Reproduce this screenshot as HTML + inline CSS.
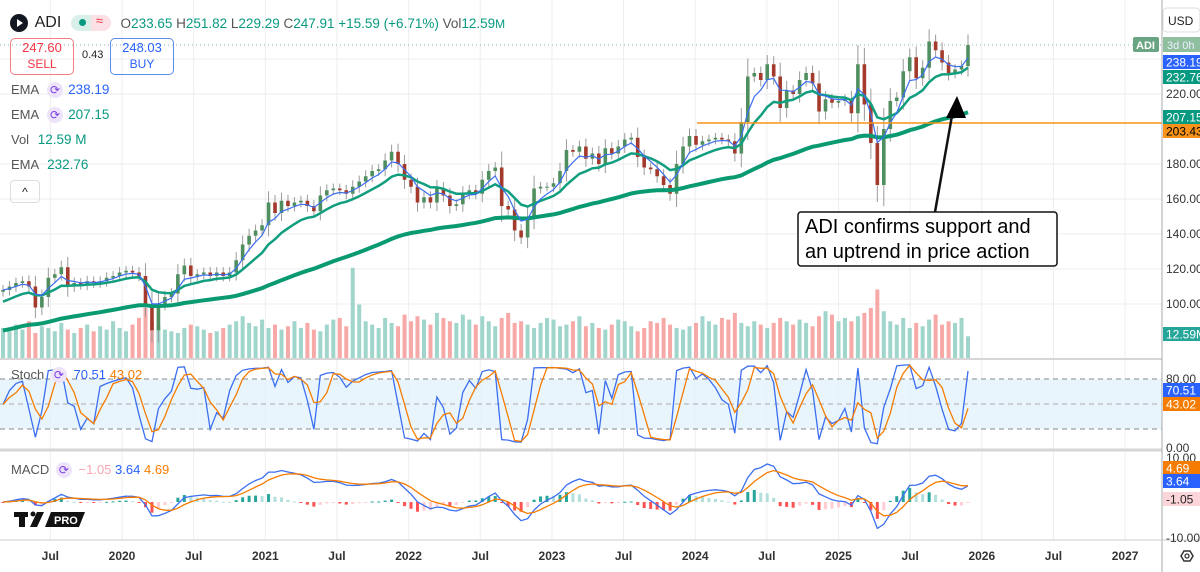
<!DOCTYPE html>
<html><head><meta charset="utf-8">
<style>
html,body{margin:0;padding:0;background:#fff;}
body{width:1200px;height:572px;overflow:hidden;position:relative;font-family:"Liberation Sans",sans-serif;}
svg{position:absolute;left:0;top:0;}
.lg{position:absolute;font-size:13px;color:#555;white-space:nowrap;}
</style></head>
<body>
<svg id="chart" width="1200" height="572" viewBox="0 0 1200 572" xmlns="http://www.w3.org/2000/svg" font-family="Liberation Sans, sans-serif">
  <g id="grid"></g>
  <rect x="0" y="379" width="1162" height="50" fill="#e3f2fd" opacity="0.8"/>
  <line x1="0" y1="379" x2="1162" y2="379" stroke="#888" stroke-dasharray="5,4"/>
  <line x1="0" y1="404" x2="1162" y2="404" stroke="#aaa" stroke-dasharray="5,4"/>
  <line x1="0" y1="429" x2="1162" y2="429" stroke="#888" stroke-dasharray="5,4"/>
  <line x1="0" y1="45" x2="1162" y2="45" stroke="#7fb8ac" stroke-dasharray="1,3"/>
  <g id="vol"></g>
  <g id="candles"></g>
  <g id="emas"></g>
  <line x1="697" y1="123" x2="1162" y2="123" stroke="#f7931a" stroke-width="1.5"/>
  <g id="stoch"></g>
  <g id="macd"></g>
  <line x1="0" y1="450" x2="1162" y2="450" stroke="#d6d6d6" stroke-width="3"/>
  <line x1="0" y1="359" x2="1162" y2="359" stroke="#d6d6d6" stroke-width="2"/>
  <line x1="0" y1="540" x2="1200" y2="540" stroke="#ccc"/>
  <line x1="1162" y1="0" x2="1162" y2="572" stroke="#aaa"/>
  <g id="timeaxis" font-size="12" fill="#333" font-weight="bold"></g>
  <g id="priceaxis" font-size="12" fill="#333"></g>
  <!-- annotation -->
  <line x1="935" y1="212" x2="953" y2="110" stroke="#111" stroke-width="2.5"/>
  <polygon points="957,96 946,118 966,118" fill="#000"/>
  <rect x="798" y="212" width="259" height="54" rx="3" fill="#fff" stroke="#111" stroke-width="1.5"/>
  <text x="805" y="233" font-size="20" fill="#000">ADI confirms support and</text>
  <text x="805" y="258" font-size="20" fill="#000">an uptrend in price action</text>
  <!-- right labels -->
  <rect x="1163" y="8" width="37" height="24" rx="4" fill="#fff" stroke="#ddd"/>
  <text x="1168" y="25" font-size="12" fill="#222">USD</text>
  <rect x="1133" y="37" width="26" height="15" rx="2" fill="#6aa583"/>
  <text x="1136" y="49" font-size="11" fill="#fff" font-weight="bold">ADI</text>
  <rect x="1163" y="37" width="37" height="15" fill="#8fbf9f"/>
  <text x="1167" y="49" font-size="11" fill="#eef">3d 0h</text>
  <g id="tags" font-size="12"></g>
  <!-- TV logo -->
  <g>
    <rect x="14" y="512" width="14" height="5" fill="#111"/>
    <rect x="19" y="512" width="6" height="15" fill="#111"/>
    <circle cx="33" cy="514" r="2.5" fill="#111"/>
    <polygon points="37,512 44,512 37,527 30,527" fill="#111"/>
    <polygon points="51,512 85,512 79,527 45,527" fill="#111"/>
    <text x="54" y="524" font-size="11" font-weight="bold" fill="#fff">PRO</text>
  </g>
  <g>
    <polygon points="1181,556 1184,551 1190,551 1193,556 1190,561 1184,561" fill="none" stroke="#333" stroke-width="1.5"/>
    <circle cx="1187" cy="556" r="2" fill="none" stroke="#333" stroke-width="1.3"/>
  </g>
</svg>

<!-- Legend -->
<div class="lg" style="left:10px;top:14px;">
  <span style="display:inline-block;width:18px;height:18px;border-radius:9px;background:#131722;vertical-align:middle;position:relative;"><span style="position:absolute;left:7px;top:5px;border-left:6px solid #fff;border-top:4px solid transparent;border-bottom:4px solid transparent;"></span></span>
  <span style="font-size:16px;color:#222;vertical-align:middle;margin-left:3px;">ADI</span>
  <span style="display:inline-block;width:40px;height:16px;border-radius:8px;background:linear-gradient(90deg,#d9f0ea 50%,#fbe0e6 50%);vertical-align:middle;margin-left:6px;position:relative;"><span style="position:absolute;left:8px;top:4px;width:7px;height:7px;border-radius:4px;background:#089981;"></span><span style="position:absolute;left:25px;top:-2px;color:#f23645;font-size:13px;">≈</span></span>
  <span style="color:#089981;font-size:13.5px;vertical-align:middle;margin-left:6px;"><span style="color:#555">O</span>233.65 <span style="color:#555">H</span>251.82 <span style="color:#555">L</span>229.29 <span style="color:#555">C</span>247.91 +15.59 (+6.71%) <span style="color:#555">Vol</span>12.59<span style="font-size:12px">M</span></span>
</div>
<div style="position:absolute;left:10px;top:38px;width:62px;height:34px;border:1px solid #f77c80;border-radius:5px;text-align:center;font-size:13px;color:#f23645;line-height:16px;padding-top:1px;">247.60<br><span style="font-size:12px">SELL</span></div>
<div class="lg" style="left:82px;top:49px;font-size:11px;color:#222;">0.43</div>
<div style="position:absolute;left:110px;top:38px;width:62px;height:34px;border:1px solid #5b8def;border-radius:5px;text-align:center;font-size:13px;color:#2962ff;line-height:16px;padding-top:1px;">248.03<br><span style="font-size:12px">BUY</span></div>
<div class="lg" style="left:11px;top:82px;">EMA <span style="display:inline-block;width:16px;height:16px;border-radius:8px;background:#ede4fb;color:#7b3fe4;text-align:center;font-size:12px;line-height:16px;margin:0 5px;">⟳</span><span style="color:#2962ff;font-size:13.5px">238.19</span></div>
<div class="lg" style="left:11px;top:107px;">EMA <span style="display:inline-block;width:16px;height:16px;border-radius:8px;background:#ede4fb;color:#7b3fe4;text-align:center;font-size:12px;line-height:16px;margin:0 5px;">⟳</span><span style="color:#089981;font-size:13.5px">207.15</span></div>
<div class="lg" style="left:11px;top:132px;">Vol <span style="color:#089981;font-size:13.5px;margin-left:5px;">12.59 M</span></div>
<div class="lg" style="left:11px;top:157px;">EMA <span style="color:#089981;font-size:13.5px;margin-left:5px;">232.76</span></div>
<div style="position:absolute;left:10px;top:180px;width:28px;height:21px;border:1px solid #ddd;border-radius:4px;text-align:center;font-size:12px;line-height:22px;color:#222;">^</div>
<div class="lg" style="left:11px;top:367px;">Stoch <span style="display:inline-block;width:16px;height:16px;border-radius:8px;background:#ede4fb;color:#7b3fe4;text-align:center;font-size:12px;line-height:16px;margin:0 3px;">⟳</span> <span style="color:#2962ff">70.51</span> <span style="color:#f57c00">43.02</span></div>
<div class="lg" style="left:11px;top:462px;">MACD <span style="display:inline-block;width:16px;height:16px;border-radius:8px;background:#ede4fb;color:#7b3fe4;text-align:center;font-size:12px;line-height:16px;margin:0 3px;">⟳</span> <span style="color:#f7a8b3">−1.05</span> <span style="color:#2962ff">3.64</span> <span style="color:#f57c00">4.69</span></div>

<script>
const closes = [108,110,112,113,110,98,104,115,117,121,
110,112,111,113,112,113,115,116,118,119,
118,116,100,85,100,104,106,117,122,116,
117,118,116,118,116,118,125,134,139,142,
145,158,152,159,156,158,159,156,153,162,
165,166,165,163,167,170,173,176,177,182,
187,180,171,167,158,161,158,166,162,156,
157,163,165,163,171,176,178,156,154,142,
138,150,166,167,167,169,176,188,187,190,
183,186,180,189,186,190,194,195,184,178,
177,173,168,163,180,190,196,191,193,194,
195,194,193,186,204,230,232,228,237,230,
212,222,220,228,232,226,210,217,215,216,
217,209,237,214,192,168,200,216,218,233,
241,229,235,250,245,238,232,234,236,248];
const volumes = [18,16,20,17,22,15,19,18,16,21,
17,15,18,20,16,19,17,22,18,16,
20,24,30,22,19,17,16,15,18,20,
19,17,15,16,18,20,22,25,21,19,
23,18,20,17,19,22,18,21,17,16,
20,23,24,19,54,32,22,20,18,24,
21,19,26,22,25,23,20,27,24,22,
21,26,23,20,25,22,19,24,27,21,
22,20,18,21,24,23,19,20,22,25,
19,21,18,17,20,23,22,19,16,18,
22,21,24,20,18,17,19,21,25,22,
20,24,23,27,21,19,22,20,18,21,
24,22,20,23,21,19,25,28,26,22,
24,22,25,27,30,41,28,22,20,24,
18,21,19,23,26,20,22,21,24,13];
const priceTicks = [100,120,140,160,180,220,240];
const priceTickLabels = ["100.00","120.00","140.00","160.00","180.00","220.00",""];
const timeTicks = [0.5,1,1.5,2,2.5,3,3.5,4,4.5,5,5.5,6,6.5,7,7.5,8];
const timeTickLabels = ["Jul","2020","Jul","2021","Jul","2022","Jul","2023","Jul","2024","Jul","2025","Jul","2026","Jul","2027"];

const NS="http://www.w3.org/2000/svg";
function mk(tag,attrs,parent){const e=document.createElementNS(NS,tag);for(const k in attrs)e.setAttribute(k,attrs[k]);parent.appendChild(e);return e;}
const N=closes.length;
function xAt(i){return 3+i*(965/(N-1));}
function yP(p){return 269-(p-120)*1.75;}
function xT(yearsFrom2019){return 122+(yearsFrom2019-1)*143.3;}
function yV(v){return 358-v*1.67;}
function yS(s){return 446-s*0.833;}

const grid=document.getElementById('grid');
priceTicks.forEach(p=>{const l=mk('line',{x1:0,x2:1162,y1:yP(p),y2:yP(p),stroke:'#eeeeee'},grid);});
timeTicks.forEach(t=>{const l=mk('line',{x1:xT(t),x2:xT(t),y1:0,y2:540,stroke:'#eeeeee'},grid);});

const ta=document.getElementById('timeaxis');
timeTicks.forEach((t,k)=>{const e=mk('text',{x:xT(t),y:560,'text-anchor':'middle'},ta);e.textContent=timeTickLabels[k];});
const pa=document.getElementById('priceaxis');
priceTicks.forEach((p,k)=>{if(!priceTickLabels[k])return;const e=mk('text',{x:1166,y:yP(p)+4},pa);e.textContent=priceTickLabels[k];});
[["80.00",383],["0.00",452],["10.00",462],["-10.00",542]].forEach(a=>{const e=mk('text',{x:1166,y:a[1]},pa);e.textContent=a[0];});

// candles & volume
const cg=document.getElementById('candles'), vg=document.getElementById('vol');
for(let i=0;i<N;i++){
  const c=closes[i], o=i?closes[i-1]:c-1, up=c>=o;
  const col=up?'#4f8f5f':'#a33a2c';
  const ext=Math.abs(c-o)*0.3+2.5;
  const hi=Math.max(o,c)+ext, lo=Math.min(o,c)-ext, x=xAt(i);
  const w=mk('line',{x1:x,x2:x,y1:yP(hi),y2:yP(lo),stroke:'#9a9a9a','stroke-width':1},cg);
  
  const top=yP(Math.max(o,c)), h=Math.max(1,Math.abs(yP(o)-yP(c)));
  const b=mk('rect',{x:x-1.8,y:top,width:3.6,height:h,fill:col},cg);
  
  const v=volumes[i];
  const vb=mk('rect',{x:x-2,y:yV(v),width:4,height:358-yV(v),fill:up?'#9fd5cb':'#f7a9a7'},vg);
  
}
function ema(arr,n,seed){const k=2/(n+1);let e=seed;return arr.map(v=>(e=v*k+e*(1-k)));}
function pathOf(vals,yf){return vals.map((v,i)=>(i?'L':'M')+xAt(i).toFixed(1)+' '+yf(v).toFixed(1)).join(' ');}
const eg=document.getElementById('emas');
const e1=ema(closes,60,84), e2=ema(closes,11,100), e3=ema(closes,4,108);
let p=mk('path',{d:pathOf(e1,yP),fill:'none',stroke:'#0a9a72','stroke-width':4},eg);
p=mk('path',{d:pathOf(e2,yP),fill:'none',stroke:'#109e7e','stroke-width':2.5},eg);
p=mk('path',{d:pathOf(e3,yP),fill:'none',stroke:'#3b6ef0','stroke-width':1.2},eg);

// stochastic
const per=6;const rawK=closes.map((c,i)=>{const s=closes.slice(Math.max(0,i-per+1),i+1);const hh=Math.max(...s)+2,ll=Math.min(...s)-2;return (c-ll)/(hh-ll)*100;});
function sma(a,n){return a.map((v,i)=>{const s=a.slice(Math.max(0,i-n+1),i+1);return s.reduce((x,y)=>x+y,0)/s.length;});}
const kS=sma(rawK,1), dS=sma(kS,3);
const sg=document.getElementById('stoch');
p=mk('path',{d:pathOf(kS,yS),fill:'none',stroke:'#3b6ef0','stroke-width':1.3},sg);
p=mk('path',{d:pathOf(dS,yS),fill:'none',stroke:'#f57c00','stroke-width':1.3},sg);

// MACD
const f=ema(closes,6,closes[0]), s=ema(closes,13,closes[0]);
const m=f.map((v,i)=>v-s[i]); const sig=ema(m,5,0); const hist=m.map((v,i)=>v-sig[i]);
const mx=Math.max(...m.map(Math.abs));const sc=38/mx;
function yM(v){return 502-v*sc;}
const mg=document.getElementById('macd');
hist.forEach((h,i)=>{const x=xAt(i);const prev=i?hist[i-1]:0;const col=h>=0?(h>=prev?'#26a69a':'#b2dfdb'):(h<prev?'#ff5252':'#ffcdd2');
 const r=mk('rect',{x:x-1.5,y:Math.min(502,yM(h)),width:3,height:Math.max(1,Math.abs(h*sc)),fill:col},mg);});
p=mk('path',{d:pathOf(m,yM),fill:'none',stroke:'#3b6ef0','stroke-width':1.3},mg);
p=mk('path',{d:pathOf(sig,yM),fill:'none',stroke:'#f57c00','stroke-width':1.3},mg);

// value tags
const tags=[["238.19",55,'#2962ff','#fff'],["232.76",70,'#089981','#fff'],["207.15",110,'#089981','#fff'],["203.43",124,'#f7931a','#000'],["12.59M",327,'#26a69a','#fff'],["70.51",383,'#2962ff','#fff'],["43.02",397,'#f57c00','#fff'],["4.69",461,'#f57c00','#fff'],["3.64",474,'#2962ff','#fff'],["-1.05",492,'#fcd5da','#222']];
const tg=document.getElementById('tags');
tags.forEach(t=>{const r=mk('rect',{x:1163,y:t[1],width:37,height:14,fill:t[2]},tg);
 const e=mk('text',{x:1166,y:t[1]+11.5,fill:t[3]},tg);e.textContent=t[0];});
</script>
</body></html>
